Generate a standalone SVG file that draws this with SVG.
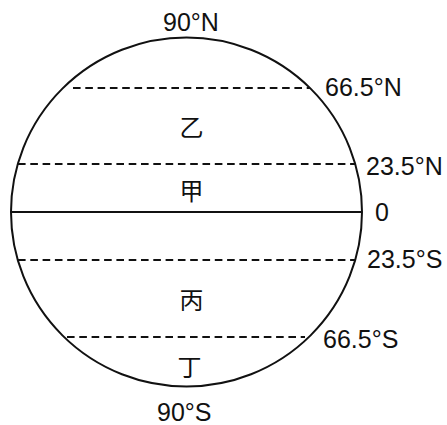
<svg xmlns="http://www.w3.org/2000/svg" width="447" height="425" viewBox="0 0 447 425">
<style>
.lbl{font-family:"Liberation Sans",Arial,sans-serif;font-size:25px;fill:#111}
.cjk{font-family:"Noto Sans CJK SC","Noto Sans CJK JP",sans-serif;font-size:24px;fill:#111;text-anchor:middle;dominant-baseline:central}
.solid{stroke:#111;stroke-width:2;fill:none}
.dash{stroke:#111;stroke-width:2;fill:none;stroke-dasharray:7.6 4.7}
</style>
<rect width="447" height="425" fill="#fff"/>
<g id="globe">
<ellipse class="solid" cx="186.5" cy="212" rx="175.5" ry="174.5"/>
</g>
<g id="connectors">
<line class="dash" x1="73" y1="88" x2="310" y2="88"/>
<line class="dash" x1="18" y1="164" x2="355" y2="164"/>
<line class="solid" x1="11" y1="212" x2="362" y2="212"/>
<line class="dash" x1="18" y1="260" x2="355" y2="260"/>
<line class="dash" x1="67" y1="337" x2="305" y2="337"/>
</g>
<g id="labels">
<text class="lbl" x="163" y="31">90°N</text>
<text class="lbl" x="325" y="96">66.5°N</text>
<text class="lbl" x="366" y="175">23.5°N</text>
<text class="lbl" x="375" y="221">0</text>
<text class="lbl" x="367" y="268">23.5°S</text>
<text class="lbl" x="323" y="348">66.5°S</text>
<text class="lbl" x="157" y="421">90°S</text>
</g>
<g id="zone-yi"><text class="cjk" x="191.5" y="125.5">乙</text></g>
<g id="zone-jia"><text class="cjk" x="191.5" y="189.5">甲</text></g>
<g id="zone-bing"><text class="cjk" x="191.5" y="298">丙</text></g>
<g id="zone-ding"><text class="cjk" x="189.5" y="365">丁</text></g>
</svg>
